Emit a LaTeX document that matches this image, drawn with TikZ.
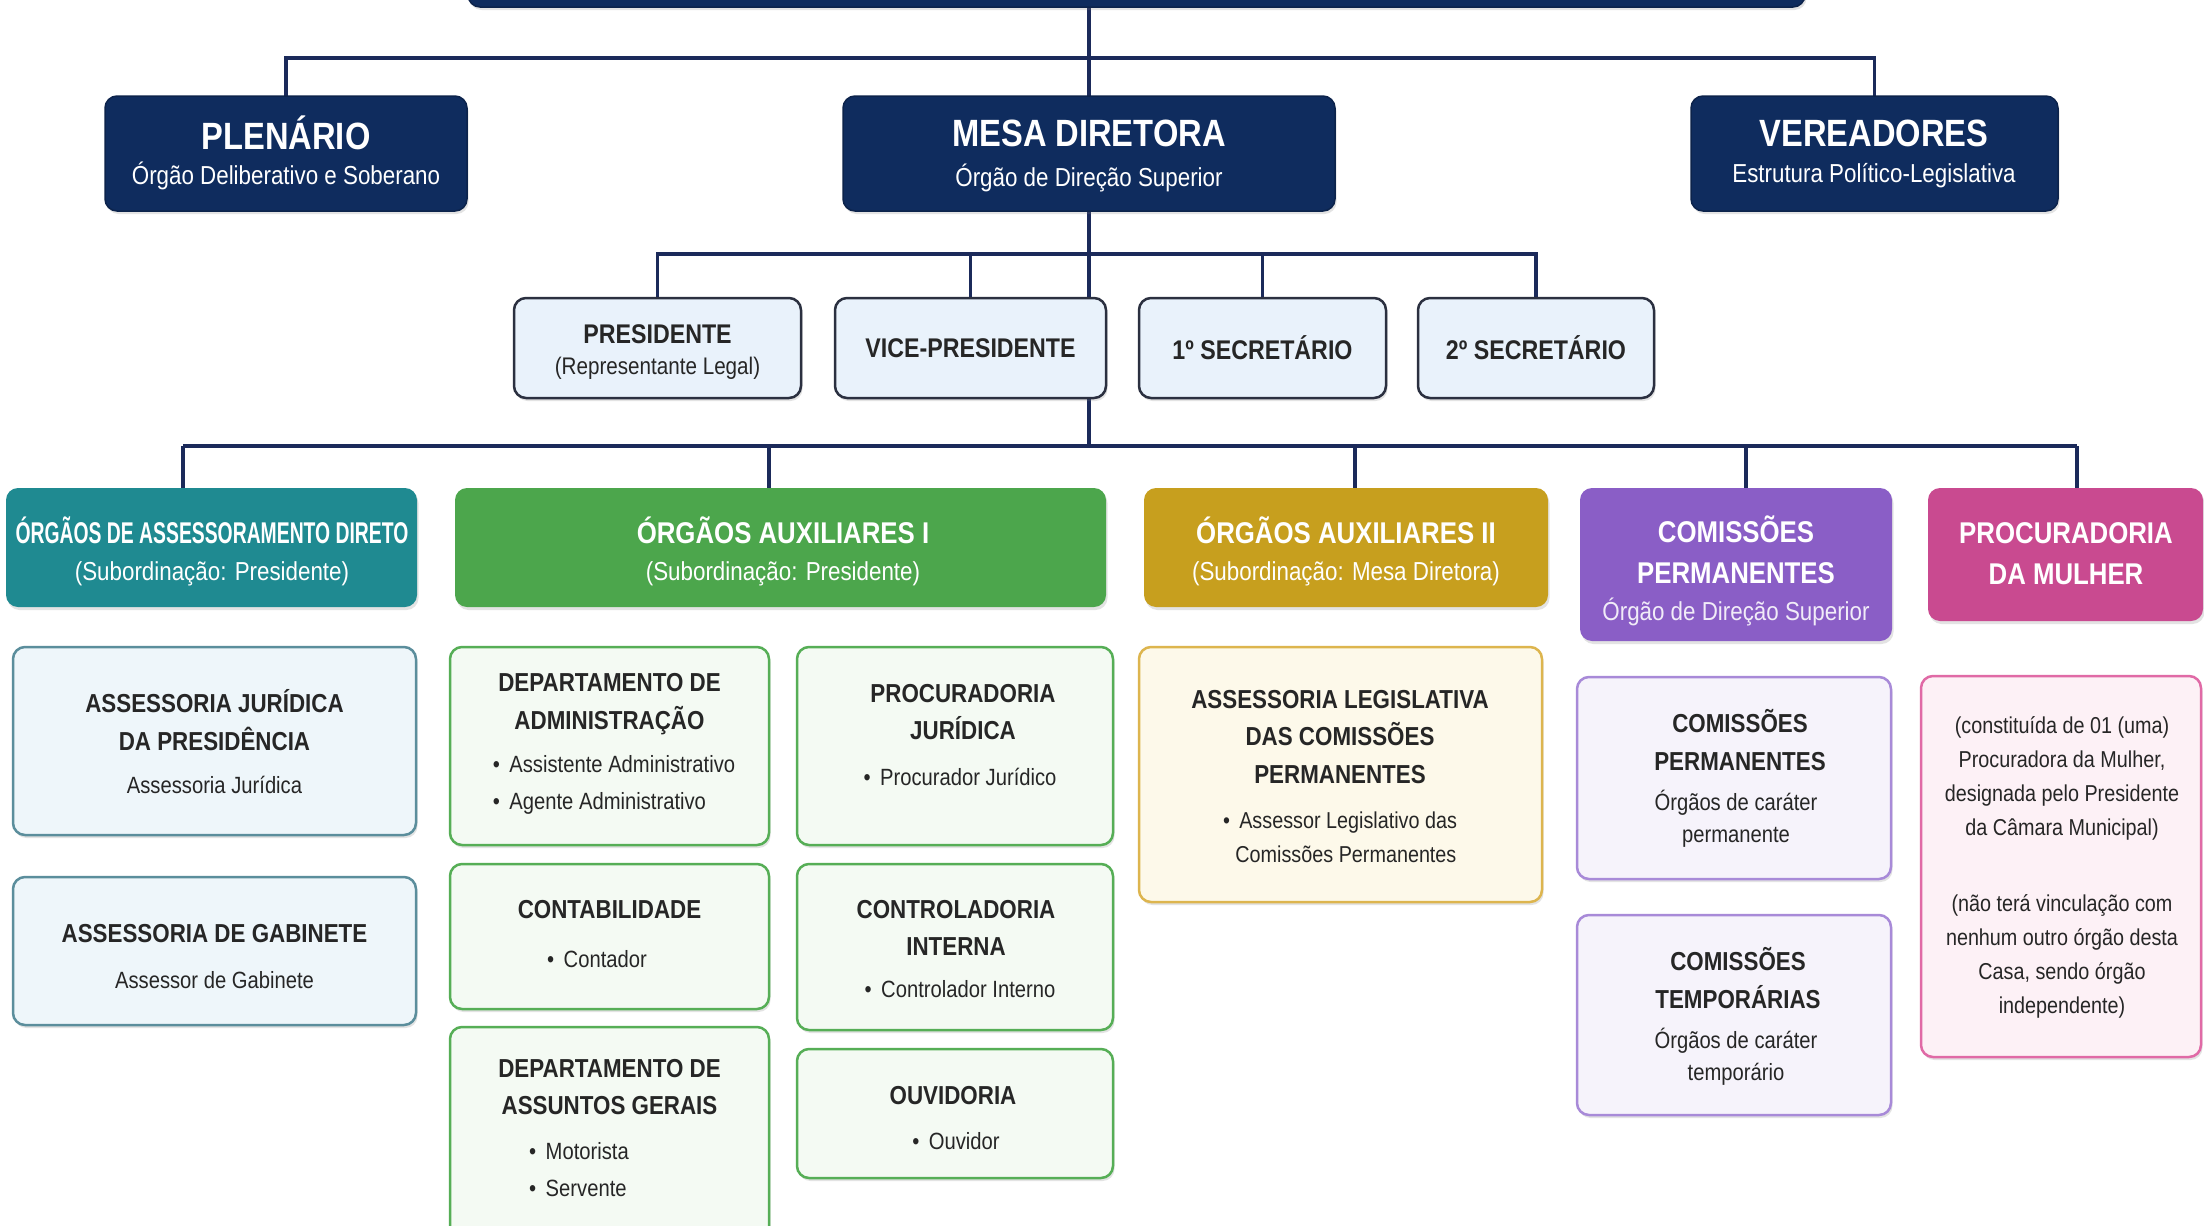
\documentclass[tikz,border=0pt]{standalone}
\usepackage{fontspec}
\setmainfont{Liberation Sans}[FakeStretch=0.86]
\usepackage{graphicx}
\usetikzlibrary{shadows}
\definecolor{navy}{HTML}{0F2C5E}
\definecolor{linec}{HTML}{1B2A5A}
\definecolor{rtwofill}{HTML}{E9F2FB}
\definecolor{rtwodraw}{HTML}{2B3040}
\definecolor{tealh}{HTML}{1F8A91}
\definecolor{greenh}{HTML}{4CA64C}
\definecolor{goldh}{HTML}{C79F1E}
\definecolor{purph}{HTML}{8A5EC6}
\definecolor{pinkh}{HTML}{C94A90}
\definecolor{cafill}{HTML}{EEF6FA}
\definecolor{cadraw}{HTML}{5B8E9C}
\definecolor{cbfill}{HTML}{F4FAF3}
\definecolor{cbdraw}{HTML}{56AE56}
\definecolor{ccfill}{HTML}{FDF9EA}
\definecolor{ccdraw}{HTML}{DDB54E}
\definecolor{cdfill}{HTML}{F6F3FB}
\definecolor{cddraw}{HTML}{A88AD8}
\definecolor{cefill}{HTML}{FDF1F6}
\definecolor{cedraw}{HTML}{E06AA6}
\definecolor{txtd}{HTML}{262626}
\pgfdeclarelayer{back}
\pgfdeclarelayer{bg}
\pgfsetlayers{back,bg,main}
\newcommand\mybox[6]{\node[#6, minimum width={#4-#2}, minimum height={#5-#3}] (#1) at ({(#2+#4)/2},{(#3+#5)/2}) {};}
\begin{document}
\begin{tikzpicture}[x=1pt,y=-1pt,
  base/.style={rectangle, rounded corners=12pt, inner sep=0pt, outer sep=0pt},
  shad/.style={drop shadow={shadow xshift=1.5pt, shadow yshift=-3pt, opacity=0.22}},
  darkbox/.style={base, shad, fill=navy, draw=navy!80!black, line width=1.5pt},
  lbox/.style={base, shad, fill=rtwofill, draw=rtwodraw, line width=2.5pt},
  hdr/.style={base, shad},
  cabox/.style={base, shad, fill=cafill, draw=cadraw, line width=2.5pt},
  cbbox/.style={base, shad, fill=cbfill, draw=cbdraw, line width=2.5pt},
  ccbox/.style={base, shad, fill=ccfill, draw=ccdraw, line width=2.5pt},
  cdbox/.style={base, shad, fill=cdfill, draw=cddraw, line width=2.5pt},
  cebox/.style={base, shad, fill=cefill, draw=cedraw, line width=2.5pt},
  conn/.style={draw=linec, line width=3.5pt},
  bigt/.style={text=white, font=\bfseries\fontsize{38}{44}\selectfont, inner sep=0pt},
  bigs/.style={text=white, font=\fontsize{26}{30}\selectfont, inner sep=0pt},
  rtwot/.style={text=txtd, font=\bfseries\fontsize{27}{32}\selectfont, inner sep=0pt},
  rtwos/.style={text=txtd, font=\fontsize{24}{28}\selectfont, inner sep=0pt},
  ht/.style={text=white, font=\bfseries\fontsize{30}{41}\selectfont, align=center, inner sep=0pt},
  hs/.style={text=white, font=\fontsize{26}{30}\selectfont, inner sep=0pt},
  bt/.style={text=txtd, font=\bfseries\fontsize{26}{37.5}\selectfont, align=center, inner sep=0pt},
  bs/.style={text=txtd, font=\fontsize{23.5}{32}\selectfont, align=center, inner sep=0pt},
  bl/.style={text=txtd, font=\fontsize{23.5}{37}\selectfont, align=left, inner sep=0pt},
  pk/.style={text=txtd, font=\fontsize{23}{34}\selectfont, align=center, inner sep=0pt}
]
\begin{pgfonlayer}{back}
\fill[white] (0,0) rectangle (2204,1226);
\end{pgfonlayer}
\useasboundingbox (0,0) rectangle (2204,1226);

% top level
\mybox{top}{468}{-40}{1805}{7}{darkbox}
\mybox{plen}{105}{96}{467}{211}{darkbox}
\mybox{mesa}{843}{96}{1335}{211}{darkbox}
\mybox{ver}{1691}{96}{2058}{211}{darkbox}
\node[bigt] (tplen) at (286,133) {PLENÁRIO};
\node[bigs] (splen) at (286,176) {Órgão Deliberativo e Soberano};
\node[bigt] (tmesa) at (1089,133) {MESA DIRETORA};
\node[bigs] (smesa) at (1089,178) {Órgão de Direção Superior};
\node[bigt] (tver) at (1874,133) {VEREADORES};
\node[bigs] (sver) at (1874,176) {Estrutura Político-Legislativa};

% row 2
\mybox{pres}{514}{298}{801}{398}{lbox}
\mybox{vice}{835}{298}{1106}{398}{lbox}
\mybox{seca}{1139}{298}{1386}{398}{lbox}
\mybox{secb}{1418}{298}{1654}{398}{lbox}
\node[rtwot] (tpres) at (657.5,334) {PRESIDENTE};
\node[rtwos] (spres) at (657.5,368) {(Representante Legal)};
\node[rtwot] (tvice) at (970.5,348) {VICE-PRESIDENTE};
\node[rtwot] (tseca) at (1262.5,348) {1º SECRETÁRIO};
\node[rtwot] (tsecb) at (1536,348) {2º SECRETÁRIO};

% headers
\mybox{hA}{6}{488}{417}{607}{hdr, fill=tealh}
\mybox{hB}{455}{488}{1106}{607}{hdr, fill=greenh}
\mybox{hC}{1144}{488}{1548}{607}{hdr, fill=goldh}
\mybox{hD}{1580}{488}{1892}{641}{hdr, fill=purph}
\mybox{hE}{1928}{488}{2203}{621}{hdr, fill=pinkh}
\node[ht] (thA) at (212,530) {\scalebox{0.75}[1]{ÓRGÃOS DE ASSESSORAMENTO DIRETO}};
\node[hs] (shA) at (212,574) {(Subordinação: Presidente)};
\node[ht] (thB) at (783,530) {ÓRGÃOS AUXILIARES I};
\node[hs] (shB) at (783,574) {(Subordinação: Presidente)};
\node[ht] (thC) at (1346,530) {ÓRGÃOS AUXILIARES II};
\node[hs] (shC) at (1346,574) {(Subordinação: Mesa Diretora)};
\node[ht] (thD) at (1736,550) {COMISSÕES\\PERMANENTES};
\node[hs, text=white!88!purph] (shD) at (1736,612) {Órgão de Direção Superior};
\node[ht] (thE) at (2066,554) {PROCURADORIA\\DA MULHER};

% column 1
\mybox{aj}{13}{647}{416}{835}{cabox}
\mybox{ag}{13}{877}{416}{1025}{cabox}
\node[bt] (taj) at (214.5,720) {ASSESSORIA JURÍDICA\\DA PRESIDÊNCIA};
\node[bs] (saj) at (214.5,785) {Assessoria Jurídica};
\node[bt] (tag) at (214.5,934) {ASSESSORIA DE GABINETE};
\node[bs] (sag) at (214.5,980) {Assessor de Gabinete};

% column 2
\mybox{da}{450}{647}{769}{845}{cbbox}
\mybox{ct}{450}{864}{769}{1009}{cbbox}
\mybox{dg}{450}{1027}{769}{1240}{cbbox}
\node[bt] (tda) at (609.5,704) {DEPARTAMENTO DE\\ADMINISTRAÇÃO};
\node[bl] (sda) at (614,785) {•\ \,Assistente Administrativo\\•\ \,Agente Administrativo};
\node[bt] (tct) at (609.5,910) {CONTABILIDADE};
\node[bl] (sct) at (597,959) {•\ \,Contador};
\node[bt] (tdg) at (609.5,1087) {DEPARTAMENTO DE\\ASSUNTOS GERAIS};
\node[bl] (sdg) at (579,1170) {•\ \,Motorista\\•\ \,Servente};

% column 3
\mybox{pj}{797}{647}{1113}{845}{cbbox}
\mybox{ci}{797}{864}{1113}{1030}{cbbox}
\mybox{ou}{797}{1049}{1113}{1178}{cbbox}
\node[bt] (tpj) at (963,712) {PROCURADORIA\\JURÍDICA};
\node[bl] (spj) at (960,777) {•\ \,Procurador Jurídico};
\node[bt] (tci) at (956,928) {CONTROLADORIA\\INTERNA};
\node[bl] (sci) at (960,989) {•\ \,Controlador Interno};
\node[bt] (tou) at (953,1096) {OUVIDORIA};
\node[bl] (sou) at (956,1141) {•\ \,Ouvidor};

% column 4
\mybox{al}{1139}{647}{1542}{902}{ccbox}
\node[bt] (tal) at (1340,737) {ASSESSORIA LEGISLATIVA\\DAS COMISSÕES\\PERMANENTES};
\node[bl, font=\fontsize{23}{34}\selectfont] (sal) at (1340,837) {•\ \,Assessor Legislativo das\\\phantom{•\ }Comissões Permanentes};

% column 5
\mybox{cp}{1577}{677}{1891}{879}{cdbox}
\mybox{cq}{1577}{915}{1891}{1115}{cdbox}
\node[bt] (tcp) at (1740,740) {COMISSÕES\\PERMANENTES};
\node[bs] (scp) at (1736,819) {Órgãos de caráter\\permanente};
\node[bt] (tcq) at (1738,978) {COMISSÕES\\TEMPORÁRIAS};
\node[bs] (scq) at (1736,1057) {Órgãos de caráter\\temporário};

% column 6
\mybox{pm}{1921}{676}{2201}{1057}{cebox}
\node[pk] (ppa) at (2062,778) {(constituída de 01 (uma)\\Procuradora da Mulher,\\designada pelo Presidente\\da Câmara Municipal)};
\node[pk] (ppb) at (2062,956) {(não terá vinculação com\\nenhum outro órgão desta\\Casa, sendo órgão\\independente)};

% connectors
\coordinate (ja) at (1089,58);
\coordinate (jb) at (1089,254);
\coordinate (jc) at (1089,446);
\coordinate (da1) at (183,446);
\coordinate (da2) at (769,446);
\coordinate (da3) at (1355,446);
\coordinate (da4) at (1746,446);
\coordinate (da5) at (2077,446);
\begin{pgfonlayer}{bg}
\draw[conn] (mesa.north |- top.south) -- (mesa.north);
\draw[conn] (plen.north) |- (ja) -| (ver.north);
\draw[conn] (mesa.south) -- (jc);
\draw[conn] (pres.north) |- (jb) -| (secb.north);
\draw[conn] (vice.north) -- (vice.north |- jb);
\draw[conn] (seca.north) -- (seca.north |- jb);
\draw[conn] (da1) -- (da5);
\draw[conn] (da1) -- (da1 |- hA.north);
\draw[conn] (da2) -- (da2 |- hB.north);
\draw[conn] (da3) -- (da3 |- hC.north);
\draw[conn] (da4) -- (da4 |- hD.north);
\draw[conn] (da5) -- (da5 |- hE.north);
\end{pgfonlayer}
\end{tikzpicture}
\end{document}
